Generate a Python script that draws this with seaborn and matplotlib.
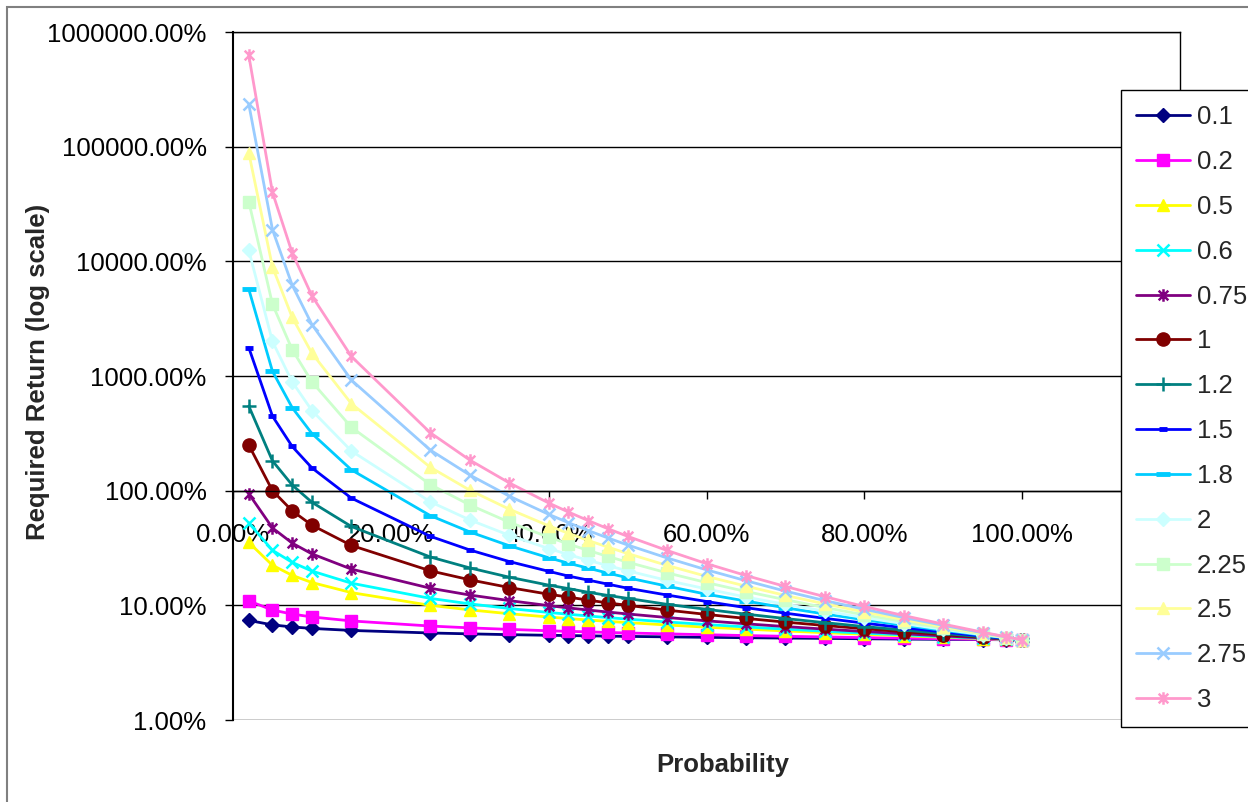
import matplotlib
matplotlib.use("Agg")
import matplotlib.pyplot as plt
import seaborn as sns
import pandas as pd
from matplotlib.path import Path
from matplotlib.patches import Rectangle
from matplotlib.ticker import FixedLocator, FuncFormatter, NullLocator

# probability of success (in %) and required return (in %) per exponent
probability = [2, 5, 7.5, 10, 15, 25, 30, 35, 40, 42.5, 45, 47.5, 50,
               55, 60, 65, 70, 75, 80, 85, 90, 95, 98, 100]

r_0_1 = [7.39, 6.75, 6.48, 6.29, 6.04, 5.74, 5.64, 5.55, 5.48, 5.45, 5.42, 5.39,
         5.36, 5.31, 5.26, 5.22, 5.18, 5.15, 5.11, 5.08, 5.05, 5.03, 5.01, 5.00]
r_0_2 = [10.93, 9.10, 8.39, 7.92, 7.31, 6.60, 6.36, 6.17, 6.00, 5.93, 5.87, 5.80,
         5.74, 5.64, 5.54, 5.45, 5.37, 5.30, 5.23, 5.17, 5.11, 5.05, 5.02, 5.00]
r_0_5 = [35.36, 22.36, 18.26, 15.81, 12.91, 10.00, 9.13, 8.45, 7.91, 7.67, 7.45, 7.25,
         7.07, 6.74, 6.45, 6.20, 5.98, 5.77, 5.59, 5.42, 5.27, 5.13, 5.05, 5.00]
r_0_6 = [52.3, 30.2, 23.7, 19.9, 15.6, 11.5, 10.3, 9.39, 8.67, 8.36, 8.08, 7.82,
         7.58, 7.16, 6.80, 6.48, 6.20, 5.94, 5.72, 5.52, 5.33, 5.16, 5.06, 5.00]
r_0_75 = [94.0, 47.3, 34.9, 28.1, 20.7, 14.1, 12.3, 11.0, 9.94, 9.50, 9.10, 8.74,
          8.41, 7.83, 7.33, 6.90, 6.53, 6.20, 5.91, 5.65, 5.41, 5.20, 5.08, 5.00]
r_1 = [250, 100, 66.7, 50.0, 33.3, 20.0, 16.7, 14.3, 12.5, 11.8, 11.1, 10.5,
       10.0, 9.09, 8.33, 7.69, 7.14, 6.67, 6.25, 5.88, 5.56, 5.26, 5.10, 5.00]
r_1_2 = [547, 182, 112, 79.2, 48.7, 26.4, 21.2, 17.6, 15.0, 14.0, 13.0, 12.2,
         11.5, 10.2, 9.23, 8.38, 7.67, 7.06, 6.53, 6.08, 5.68, 5.32, 5.12, 5.00]
r_1_5 = [1768, 447, 243, 158, 86.1, 40.0, 30.4, 24.1, 19.8, 18.0, 16.6, 15.3,
         14.1, 12.3, 10.8, 9.54, 8.54, 7.70, 6.99, 6.38, 5.86, 5.40, 5.15, 5.00]
r_1_8 = [5717, 1099, 530, 315, 152, 60.6, 43.7, 33.1, 26.0, 23.3, 21.1, 19.1,
         17.4, 14.7, 12.5, 10.9, 9.51, 8.40, 7.48, 6.70, 6.05, 5.49, 5.19, 5.00]
r_2 = [12500, 2000, 889, 500, 222, 80.0, 55.6, 40.8, 31.3, 27.7, 24.7, 22.2,
       20.0, 16.5, 13.9, 11.8, 10.2, 8.89, 7.81, 6.92, 6.17, 5.54, 5.21, 5.00]
r_2_25 = [33240, 4230, 1699, 889, 357, 113, 75.1, 53.1, 39.3, 34.3, 30.1, 26.7,
          23.8, 19.2, 15.8, 13.2, 11.2, 9.56, 8.26, 7.21, 6.34, 5.61, 5.23, 5.00]
r_2_5 = [88390, 8944, 3246, 1581, 574, 160, 101, 69.0, 49.4, 42.5, 36.8, 32.2,
         28.3, 22.3, 17.9, 14.7, 12.2, 10.3, 8.74, 7.51, 6.51, 5.69, 5.26, 5.00]
r_2_75 = [235000, 18910, 6203, 2812, 922, 226, 137, 89.7, 62.2, 52.6, 44.9, 38.7,
          33.6, 25.9, 20.4, 16.4, 13.3, 11.0, 9.24, 7.82, 6.69, 5.76, 5.29, 5.00]
r_3 = [625000, 40000, 11850, 5000, 1481, 320, 185, 117, 78.1, 65.1, 54.9, 46.6,
       40.0, 30.1, 23.1, 18.2, 14.6, 11.9, 9.77, 8.14, 6.86, 5.83, 5.31, 5.00]

labels = ["0.1", "0.2", "0.5", "0.6", "0.75", "1", "1.2", "1.5", "1.8",
          "2", "2.25", "2.5", "2.75", "3"]
returns = [r_0_1, r_0_2, r_0_5, r_0_6, r_0_75, r_1, r_1_2, r_1_5, r_1_8,
           r_2, r_2_25, r_2_5, r_2_75, r_3]

# Excel-like asterisk: x plus vertical bar
star = Path([(-1, -1), (1, 1), (-1, 1), (1, -1), (0, -1.3), (0, 1.3)],
            [Path.MOVETO, Path.LINETO, Path.MOVETO, Path.LINETO, Path.MOVETO, Path.LINETO])

# color, marker, markersize, markeredgewidth, filled
styles = [
    ("#000080", "D", 7, 1, True),
    ("#FF00FF", "s", 8, 1, True),
    ("#FFFF00", "^", 9, 1, True),
    ("#00FFFF", "x", 9, 1.8, False),
    ("#800080", star, 9, 1.8, False),
    ("#800000", "o", 9.5, 1, True),
    ("#008080", "+", 10, 1.8, False),
    ("#0000FF", "_", 6, 3.5, False),
    ("#00CCFF", "_", 10, 3.5, False),
    ("#CCFFFF", "D", 7, 1, True),
    ("#CCFFCC", "s", 9, 1, True),
    ("#FFFF99", "^", 9, 1, True),
    ("#99CCFF", "x", 9, 1.8, False),
    ("#FF99CC", star, 9, 1.8, False),
]

sns.set_style("white")
plt.rcParams["font.family"] = ["Liberation Sans", "DejaVu Sans"]

fig = plt.figure(figsize=(12.48, 8.02), dpi=100)
ax = fig.add_axes([233 / 1248, 1 - 720 / 802, (1180 - 233) / 1248, (720 - 32) / 802])

for lab, vals, (col, mk, ms, mew, filled) in zip(labels, returns, styles):
    df = pd.DataFrame({"Probability": probability, "Return": vals})
    sns.lineplot(data=df, x="Probability", y="Return", ax=ax, color=col,
                 linewidth=2, marker=mk, markersize=ms, markeredgewidth=mew,
                 markeredgecolor=col, markerfacecolor=col if filled else "none",
                 label=lab, sort=False)

ax.set_yscale("log")
ax.set_ylim(1, 1e6)
ax.set_xlim(0, 120)
ax.yaxis.set_major_locator(FixedLocator([1, 10, 100, 1e3, 1e4, 1e5, 1e6]))
ax.yaxis.set_minor_locator(NullLocator())
ax.yaxis.set_major_formatter(FuncFormatter(lambda v, p: f"{v:.2f}%"))
ax.xaxis.set_major_locator(FixedLocator([0, 20, 40, 60, 80, 100]))
ax.xaxis.set_major_formatter(FuncFormatter(lambda v, p: f"{v:.2f}%"))

ax.grid(axis="y", color="black", linewidth=1)
ax.grid(axis="x", visible=False)
ax.spines["bottom"].set_position(("data", 100))
for s in ax.spines.values():
    s.set_color("black")
    s.set_linewidth(1)
ax.spines["left"].set_linewidth(1.5)

ax.tick_params(axis="y", direction="out", length=6, width=1, pad=13,
               labelsize=18.5, left=True, colors="black")
ax.tick_params(axis="x", direction="out", length=6, width=1, pad=17,
               labelsize=18.5, bottom=True, colors="black")
ax.set_xlabel("")
ax.set_ylabel("")

fig.text(723 / 1248, 1 - 765 / 802, "Probability", ha="center", va="center",
         fontsize=18.5, fontweight="bold")
fig.text(38 / 1248, 1 - 372 / 802, "Required Return (log scale)", ha="center",
         va="center", rotation=90, fontsize=18.5, fontweight="bold")

leg = ax.legend(loc="upper left", bbox_to_anchor=(1121 / 1248, 1 - 90 / 802),
                bbox_transform=fig.transFigure, borderaxespad=0, fontsize=18.5,
                frameon=True, fancybox=False, framealpha=1, edgecolor="black",
                handlelength=2.1, handletextpad=0.25, labelspacing=0.81,
                borderpad=0.6)
leg.get_frame().set_linewidth(1)

# outer chart border
fig.patches.append(Rectangle((7 / 1248, -0.05), 1.1, 1 - 7 / 802 + 0.05,
                             transform=fig.transFigure, fill=False,
                             edgecolor="#808080", linewidth=1.5))

fig.savefig("out.png", dpi=100)
